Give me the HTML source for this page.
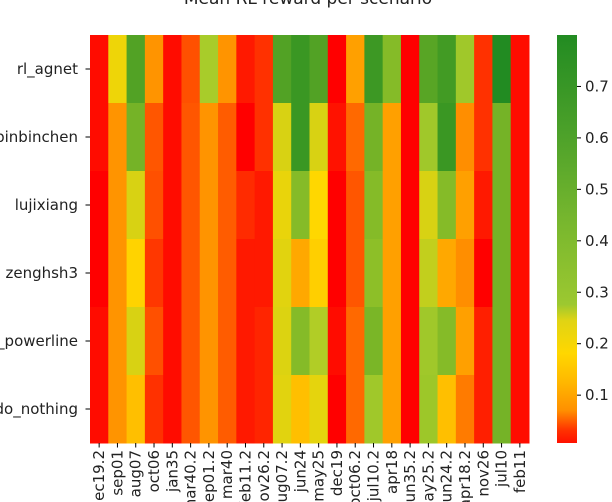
<!DOCTYPE html>
<html><head><meta charset="utf-8"><style>
body{margin:0;background:#fff;width:612px;height:502px;overflow:hidden}
svg{display:block;font-family:"DejaVu Sans","Liberation Sans",sans-serif}
</style></head><body>
<svg id="chart" width="612" height="502">
<defs><linearGradient id="cbg" x1="0" y1="1" x2="0" y2="0"></linearGradient></defs>
<text x="308" y="4" font-size="17" text-anchor="middle" fill="#222">Mean RL reward per scenario</text>
<g id="cells"></g><g id="ylab"></g><g id="xlab"></g><g id="cbar"></g>
</svg>
<script>
const rows = ["rl_agnet","abinbinchen","lujixiang","zenghsh3","ml_powerline","do_nothing"];
const cols = ["dec19.2","sep01","aug07","oct06","jan35","mar40.2","sep01.2","mar40","feb11.2","nov26.2","aug07.2","jun24","may25","dec19","oct06.2","jul10.2","apr18","jun35.2","may25.2","jun24.2","apr18.2","nov26","jul10","feb11"];
const r0 = [0.01,0.22,0.62,0.12,0.01,0.065,0.3,0.12,0.02,0.04,0.62,0.71,0.62,0.0,0.13,0.7,0.43,0.0,0.6,0.68,0.33,0.04,0.8,0.01];
const r1 = [0.01,0.12,0.49,0.07,0.01,0.07,0.12,0.075,0.0,0.04,0.245,0.71,0.245,0.015,0.085,0.49,0.13,0.0,0.33,0.71,0.115,0.04,0.49,0.01];
const r2 = [0.0,0.12,0.245,0.065,0.01,0.07,0.12,0.075,0.035,0.02,0.225,0.43,0.2,0.0,0.07,0.43,0.13,0.0,0.245,0.43,0.13,0.02,0.49,0.01];
const r3 = [0.0,0.12,0.195,0.045,0.01,0.07,0.12,0.075,0.02,0.02,0.235,0.14,0.19,0.0,0.07,0.4,0.13,0.0,0.27,0.14,0.115,0.0,0.49,0.01];
const r4 = [0.01,0.12,0.245,0.065,0.01,0.07,0.12,0.075,0.02,0.03,0.24,0.43,0.29,0.01,0.085,0.47,0.13,0.0,0.33,0.43,0.13,0.025,0.49,0.01];
const r5 = [0.01,0.12,0.17,0.04,0.01,0.07,0.12,0.075,0.02,0.03,0.235,0.17,0.23,0.0,0.085,0.33,0.13,0.0,0.34,0.17,0.1,0.025,0.49,0.01];
const values = [r0,r1,r2,r3,r4,r5];
const cbTicks = [0.1,0.2,0.3,0.4,0.5,0.6,0.7];

const NS="http://www.w3.org/2000/svg";
const X0=90,X1=529,Y0=35,Y1=443;
const cw=(X1-X0)/cols.length, rh=(Y1-Y0)/rows.length;
const xPos=i=>X0+i*cw, yPos=j=>Y0+j*rh;
const stops=[[0,[255,0,0]],[0.13,[255,160,0]],[0.2,[255,215,0]],[0.3,[168,204,42]],[0.8,[34,139,34]]];
function cmap(v){
  if(v<=0) return "rgb(255,0,0)";
  for(let k=1;k<stops.length;k++){
    if(v<=stops[k][0]){const a=stops[k-1],b=stops[k];const t=(v-a[0])/(b[0]-a[0]);
      return "rgb("+a[1].map((c,i)=>Math.round(c+(b[1][i]-c)*t)).join(",")+")";}
  }
  return "rgb(34,139,34)";
}
function mk(tag,attrs,parent){const e=document.createElementNS(NS,tag);for(const k in attrs)e.setAttribute(k,attrs[k]);parent.appendChild(e);return e;}
const gc=document.getElementById("cells");
values.forEach((row,j)=>row.forEach((v,i)=>{
  const r=mk("rect",{x:xPos(i),y:yPos(j),width:cw+0.5,height:rh+0.5,fill:cmap(v)},gc);
  
  
}));
const gy=document.getElementById("ylab");
rows.forEach((n,j)=>{
  const yc=yPos(j)+rh/2;
  mk("line",{x1:X0-4.5,x2:X0,y1:yc,y2:yc,stroke:"#000","stroke-width":1},gy);
  const t=mk("text",{x:X0-12,y:yc+5,"font-size":15,"text-anchor":"end",fill:"#222"},gy);
  t.textContent=n;
  
  
});
const gx=document.getElementById("xlab");
cols.forEach((n,i)=>{
  const xc=xPos(i)+cw/2;
  mk("line",{x1:xc,x2:xc,y1:Y1,y2:Y1+4.5,stroke:"#000","stroke-width":1},gx);
  const t=mk("text",{x:0,y:0,"font-size":15,"text-anchor":"end",fill:"#222",transform:"translate("+(xc+5)+","+(Y1+7)+") rotate(-90)"},gx);
  t.textContent=n;
  
  
});
const CB0=0.007,CB1=0.8,CX=557,CWd=20;
const cy=v=>Y1-(v-CB0)/(CB1-CB0)*(Y1-Y0);
const grad=document.getElementById("cbg");
[[0,"#ff1000"],[0.03,"#ff3000"],[0.08,"#ff9000"],[0.15,"#ffb800"],[0.22,"#ffd700"],[0.3,"#e0d414"],[0.34,"#9cc830"],[0.55,"#76b62e"],[0.75,"#4ea22a"],[1,"#228b22"]].forEach(s=>mk("stop",{offset:s[0],"stop-color":s[1]},grad));
const gb=document.getElementById("cbar");
const cb=mk("rect",{x:CX,y:Y0,width:CWd,height:Y1-Y0,fill:"url(#cbg)"},gb);


cbTicks.forEach(v=>{
  const y=cy(v);
  mk("line",{x1:CX+CWd,x2:CX+CWd+4,y1:y,y2:y,stroke:"#000","stroke-width":1},gb);
  const t=mk("text",{x:CX+CWd+8,y:y+5,"font-size":15,fill:"#222"},gb);
  t.textContent=v.toFixed(1);
  
  
});
</script>
</body></html>
